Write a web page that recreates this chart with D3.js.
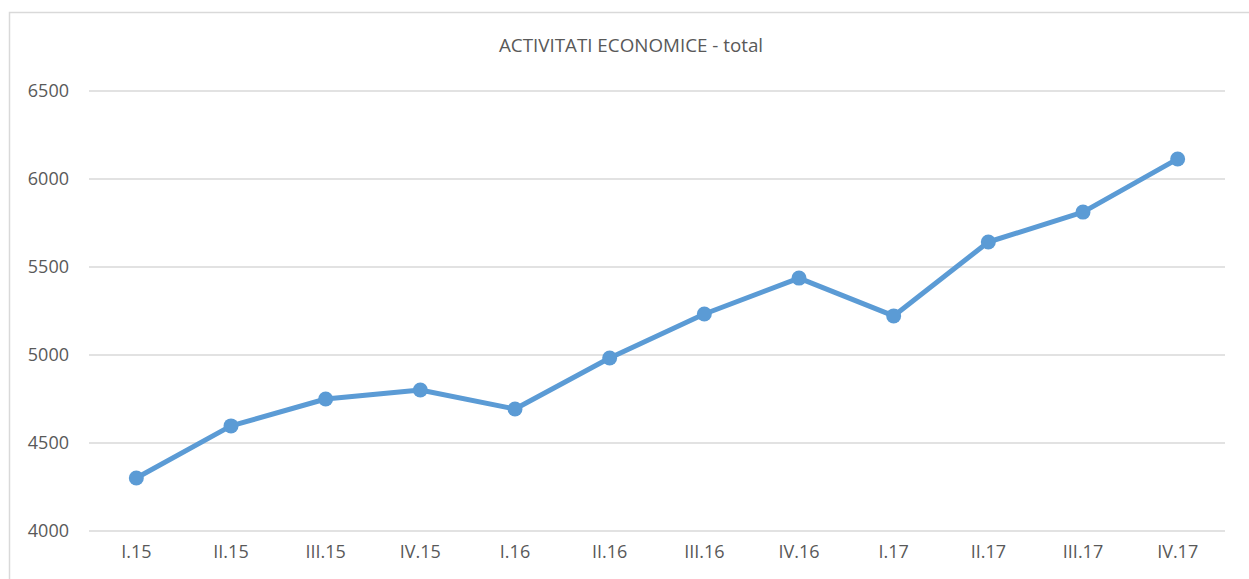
<!DOCTYPE html>
<html>
<head>
<meta charset="utf-8">
<script src="https://cdn.jsdelivr.net/npm/d3@7"></script>
<style>
body { margin: 0; background: #fff; }
svg { display: block; }
svg text { font-family: "Open Sans", "Liberation Sans", sans-serif; }
</style>
</head>
<body>
<main></main>
<script>
const categories = ["I.15","II.15","III.15","IV.15","I.16","II.16","III.16","IV.16","I.17","II.17","III.17","IV.17"];
const values = [4301, 4597, 4750, 4801, 4693, 4983, 5233, 5437, 5222, 5642, 5812, 6114];
const yTicks = [4000, 4500, 5000, 5500, 6000, 6500];
const title = "ACTIVITATI ECONOMICE - total";

const w = 1249, h = 579,
	margin = {top: 91, right: 24, bottom: 48, left: 89};

const svg = d3.select("main")
	.append("svg")
	.attr("width", w)
	.attr("height", h);

// chart frame (runs off the right and bottom edge like the source)
svg.append("rect")
	.attr("x", 9.5)
	.attr("y", 12.5)
	.attr("width", w + 20)
	.attr("height", h + 20)
	.attr("fill", "#fff")
	.attr("stroke", "#d9d9d9")
	.attr("stroke-width", 1.5);

const xScale = d3.scaleBand()
	.domain(categories)
	.range([margin.left, w - margin.right]);

const yScale = d3.scaleLinear()
	.domain([4000, 6500])
	.range([h - margin.bottom, margin.top]);

// gridlines
svg.append("g")
	.selectAll("line")
	.data(yTicks)
	.enter()
	.append("line")
	.attr("x1", margin.left)
	.attr("x2", w - margin.right)
	.attr("y1", d => yScale(d))
	.attr("y2", d => yScale(d))
	.attr("stroke", "#d9d9d9")
	.attr("stroke-width", 1.5);

const yAxis = d3.axisLeft(yScale)
	.tickValues(yTicks)
	.tickFormat(d3.format("d"))
	.tickSize(0)
	.tickPadding(20);
svg.append("g")
	.attr("transform", "translate(" + margin.left + ",0)")
	.call(yAxis)
	.call(g => g.select(".domain").remove())
	.selectAll("text")
	.attr("fill", "#595959")
	.style("font-size", "18px");

const xAxis = d3.axisBottom(xScale).tickSize(0).tickPadding(14);
svg.append("g")
	.attr("transform", "translate(0," + (h - margin.bottom) + ")")
	.call(xAxis)
	.call(g => g.select(".domain").remove())
	.selectAll("text")
	.attr("fill", "#595959")
	.style("font-size", "18px");

const cx = d => xScale(d) + xScale.bandwidth() / 2;

const line = d3.line()
	.x((d, i) => cx(categories[i]))
	.y(d => yScale(d));

svg.append("path")
	.datum(values)
	.attr("d", line)
	.attr("fill", "none")
	.attr("stroke", "#5b9bd5")
	.attr("stroke-width", 5)
	.attr("stroke-linejoin", "round");

svg.selectAll("circle")
	.data(values)
	.enter()
	.append("circle")
	.attr("cx", (d, i) => cx(categories[i]))
	.attr("cy", d => yScale(d))
	.attr("r", 7.5)
	.attr("fill", "#5b9bd5");

svg.append("text")
	.attr("x", 631)
	.attr("y", 52)
	.attr("text-anchor", "middle")
	.attr("fill", "#595959")
	.style("font-size", "18.8px")
	.text(title);
</script>
</body>
</html>
